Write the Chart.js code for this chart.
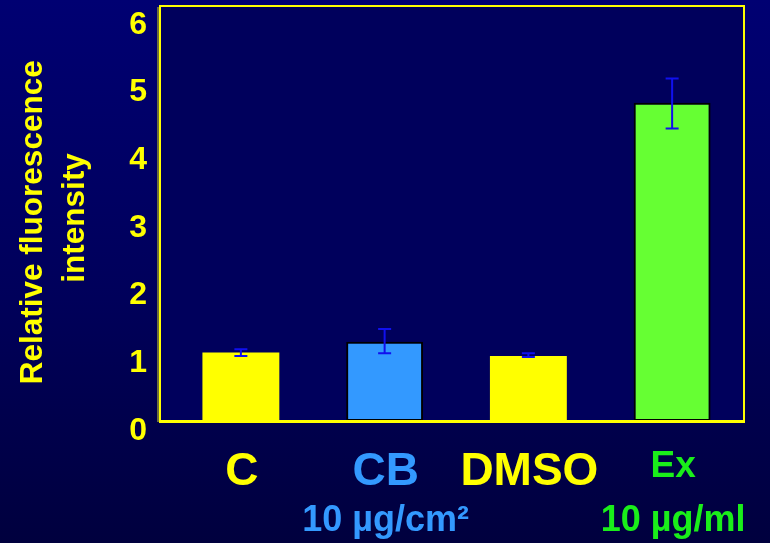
<!DOCTYPE html>
<html>
<head>
<meta charset="utf-8">
<script src="https://cdn.jsdelivr.net/npm/chart.js@4.4.1/dist/chart.umd.min.js"></script>
<style>
  html, body { margin: 0; padding: 0; }
  body { width: 770px; height: 543px; background: linear-gradient(to bottom, #000072 0%, #00005a 55%, #00003e 100%); overflow: hidden; }
  canvas { display: block; }
</style>
</head>
<body>
<canvas id="c" width="770" height="543"></canvas>
<script>
const categories = ['C', 'CB', 'DMSO', 'Ex'];
const subLabels = ['', '10 µg/cm²', '', '10 µg/ml'];
const values = [1.01, 1.17, 0.96, 4.70];
const errLow = [0.96, 1.00, 0.945, 4.32];
const errHigh = [1.06, 1.36, 1.00, 5.06];
const yTicks = [0, 1, 2, 3, 4, 5, 6];
const yTitle = ['Relative fluorescence  ', 'intensity '];

const barColors = ['#ffff00', '#3399ff', '#ffff00', '#66ff33'];
const barBorders = ['#c8c800', '#000000', '#c8c800', '#000000'];
const barBorderW = [0, 2, 0, 2];
const labelColors = ['#ffff00', '#3399ff', '#ffff00', '#1aee1a'];
const subColors = ['#3399ff', '#3399ff', '#1aee1a', '#1aee1a'];
const FONT = '"Liberation Sans", Arial, Helvetica, sans-serif';
const FRAME_INSET = 9; // frame's left edge sits this far left of the bar area

const plotBg = {
  id: 'plotBg',
  beforeDraw(chart) {
    const {ctx, chartArea: a} = chart;
    const L = a.left - FRAME_INSET;
    ctx.save();
    ctx.fillStyle = '#00005c';
    ctx.fillRect(L, a.top, a.right - L, a.bottom - a.top);
    ctx.restore();
  }
};

const frameAndErrors = {
  id: 'frameAndErrors',
  afterDatasetsDraw(chart) {
    const {ctx, chartArea: a} = chart;
    const L = a.left - FRAME_INSET;
    const y = chart.scales.y;
    const meta = chart.getDatasetMeta(0);
    ctx.save();
    ctx.strokeStyle = '#6e6e3c';
    ctx.lineWidth = 2;
    ctx.beginPath();
    ctx.moveTo(L - 2, a.top + 1); ctx.lineTo(L - 2, a.bottom + 1);
    ctx.stroke();
    ctx.strokeStyle = '#ffff00';
    ctx.lineWidth = 2;
    ctx.beginPath();
    ctx.moveTo(L, a.bottom); ctx.lineTo(L, a.top);
    ctx.lineTo(a.right, a.top); ctx.lineTo(a.right, a.bottom);
    ctx.stroke();
    ctx.lineWidth = 3;
    ctx.beginPath();
    ctx.moveTo(L - 1, a.bottom + 0.5); ctx.lineTo(a.right + 1, a.bottom + 0.5);
    ctx.stroke();
    ctx.strokeStyle = '#1010ee';
    ctx.lineWidth = 2;
    meta.data.forEach((bar, i) => {
      const x = bar.x;
      const lo = y.getPixelForValue(errLow[i]);
      const hi = y.getPixelForValue(errHigh[i]);
      ctx.beginPath();
      ctx.moveTo(x, lo); ctx.lineTo(x, hi);
      ctx.moveTo(x - 6.5, lo); ctx.lineTo(x + 6.5, lo);
      ctx.moveTo(x - 6.5, hi); ctx.lineTo(x + 6.5, hi);
      ctx.stroke();
    });
    ctx.restore();
  }
};

new Chart(document.getElementById('c'), {
  type: 'bar',
  data: {
    labels: categories,
    datasets: [{
      data: values,
      backgroundColor: barColors,
      borderColor: barBorders,
      borderWidth: barBorderW,
      borderSkipped: false,
      categoryPercentage: 1.0,
      barPercentage: 0.535
    }]
  },
  options: {
    responsive: false,
    animation: false,
    layout: { padding: { top: 6, right: 26, left: 0, bottom: 0 } },
    plugins: { legend: { display: false }, tooltip: { enabled: false } },
    scales: {
      x: {
        type: 'category',
        position: 'bottom',
        weight: 0,
        grid: { display: false },
        border: { display: false },
        ticks: {
          autoSkip: false,
          maxRotation: 0,
          color: labelColors,
          padding: 16,
          labelOffset: 1,
          font: (c) => ({ family: FONT, weight: 'bold', size: c.index === 3 ? 37 : 46 })
        },
        afterFit(s) { s.height = 70; s.paddingLeft = 0; s.paddingRight = 0; }
      },
      x2: {
        type: 'category',
        position: 'bottom',
        weight: 1,
        labels: subLabels,
        grid: { display: false },
        border: { display: false },
        ticks: {
          autoSkip: false,
          maxRotation: 0,
          color: subColors,
          padding: 0,
          labelOffset: 1,
          font: { family: FONT, weight: 'bold', size: 36 }
        },
        afterFit(s) { s.height = 52; s.paddingLeft = 0; s.paddingRight = 0; }
      },
      y: {
        min: 0,
        max: 6.13,
        grid: { display: false },
        border: { display: false },
        afterBuildTicks(s) { s.ticks = yTicks.map(v => ({ value: v })); },
        ticks: {
          color: '#ffff00',
          padding: 14,
          labelOffset: 10,
          font: { family: FONT, weight: 'bold', size: 32 }
        },
        title: {
          display: true,
          text: yTitle,
          color: '#ffff00',
          padding: { top: 12, bottom: 0 },
          font: { family: FONT, weight: 'bold', size: 31.5, lineHeight: 1.33 }
        },
        afterFit(s) { s.width = 169; s.paddingTop = 0; s.paddingBottom = 0; }
      }
    }
  },
  plugins: [plotBg, frameAndErrors]
});
</script>
</body>
</html>
